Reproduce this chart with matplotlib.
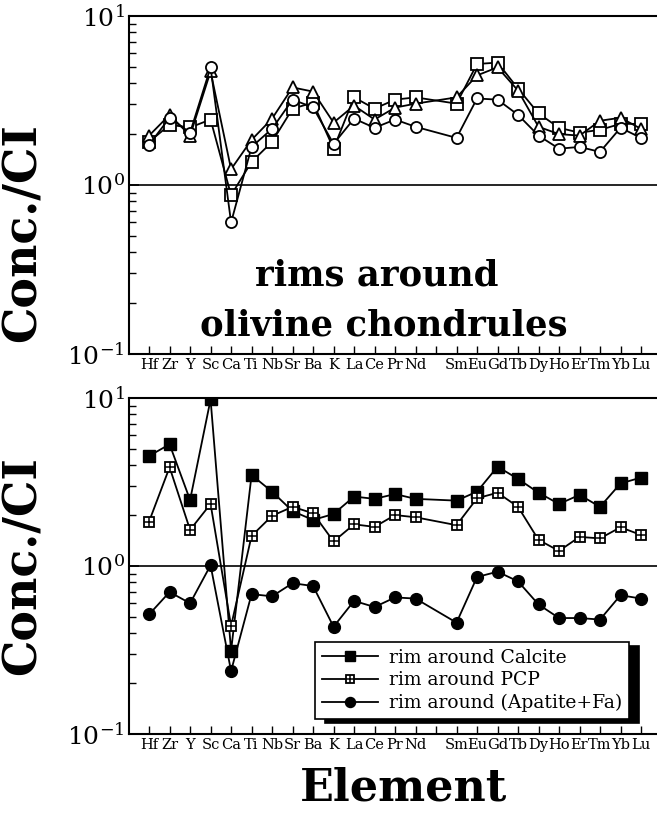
import matplotlib
matplotlib.use("Agg")
import matplotlib.pyplot as plt
from matplotlib.ticker import LogLocator, NullFormatter, FixedLocator

plt.rcParams['font.family'] = 'DejaVu Serif'
plt.rcParams['mathtext.fontset'] = 'dejavuserif'
plt.rcParams['mathtext.default'] = 'regular'

# element order on the x axis, Pm left empty
tick_labels = ["Hf", "Zr", "Y", "Sc", "Ca", "Ti", "Nb", "Sr", "Ba", "K", "La", "Ce", "Pr", "Nd",
               "", "Sm", "Eu", "Gd", "Tb", "Dy", "Ho", "Er", "Tm", "Yb", "Lu"]
elements = [t for t in tick_labels if t]

# top panel: rims around olivine chondrules
olv_square = [1.8, 2.27, 2.19, 2.44, 0.87, 1.37, 1.8, 2.83, 3.07, 1.64, 3.3, 2.83,
              3.2, 3.3, 3.03, 5.2, 5.3, 3.72, 2.65, 2.18, 2.04, 2.12, 2.3, 2.3]
olv_triangle = [1.96, 2.6, 1.96, 4.7, 1.24, 1.85, 2.47, 3.78, 3.57, 2.34, 2.95, 2.44,
                2.87, 3.03, 3.3, 4.45, 4.97, 3.62, 2.21, 2.0, 1.96, 2.4, 2.5, 2.15]
olv_circle = [1.73, 2.5, 2.04, 4.97, 0.60, 1.68, 2.15, 3.2, 2.88, 1.75, 2.47, 2.18,
              2.44, 2.21, 1.9, 3.25, 3.2, 2.6, 1.96, 1.64, 1.68, 1.57, 2.18, 1.9]

# bottom panel
calcite = [4.52, 5.3, 2.47, 9.8, 0.313, 3.48, 2.77, 2.12, 1.88, 2.04, 2.59, 2.51,
           2.68, 2.51, 2.45, 2.77, 3.9, 3.3, 2.73, 2.34, 2.65, 2.25, 3.1, 3.36]
pcp = [1.84, 3.87, 1.64, 2.34, 0.44, 1.51, 1.99, 2.25, 2.06, 1.4, 1.77, 1.71,
       2.01, 1.95, 1.75, 2.53, 2.73, 2.25, 1.43, 1.23, 1.49, 1.46, 1.7, 1.53]
apatite_fa = [0.515, 0.70, 0.60, 1.01, 0.237, 0.68, 0.66, 0.79, 0.76, 0.435, 0.62, 0.57,
              0.65, 0.64, 0.46, 0.86, 0.925, 0.81, 0.59, 0.49, 0.49, 0.48, 0.67, 0.64]

x = [tick_labels.index(e) for e in elements]

W, H = 657, 816
fig = plt.figure(figsize=(W / 100, H / 100), dpi=100)

def add_ax(top_px, bot_px):
    left, right = 129 / W, 1.0
    return fig.add_axes([left, 1 - bot_px / H, right - left, (bot_px - top_px) / H])

def style(ax, label_y):
    ax.set_yscale('log')
    ax.set_ylim(0.1, 10)
    ax.set_xlim(-0.98, 24.78)
    ax.axhline(1.0, color='black', lw=1.2, zorder=1)
    ax.xaxis.set_major_locator(FixedLocator(range(len(tick_labels))))
    ax.set_xticklabels(tick_labels, fontsize=10.5)
    ax.yaxis.set_major_locator(LogLocator(base=10, numticks=5))
    ax.yaxis.set_minor_locator(LogLocator(base=10, subs=range(2, 10), numticks=10))
    ax.yaxis.set_minor_formatter(NullFormatter())
    ax.tick_params(axis='x', direction='in', length=6, width=1, top=False, pad=3)
    ax.tick_params(axis='y', which='major', direction='in', length=7, width=1.2,
                   labelsize=18, pad=3)
    ax.tick_params(axis='y', which='minor', direction='in', length=5, width=1)
    ax.spines['right'].set_visible(False)
    for s in ['left', 'top', 'bottom']:
        ax.spines[s].set_linewidth(1.5)
    ax.set_ylabel('Conc./CI', fontsize=33, fontweight='bold')
    ax.yaxis.set_label_coords(-0.158, label_y)

ax1 = add_ax(16, 354)
style(ax1, 0.36)
mk = dict(color='black', lw=1.3, markersize=8, markerfacecolor='white',
          markeredgecolor='black', markeredgewidth=1.3)
ax1.plot(x, olv_square, marker='s', **mk)
ax1.plot(x, olv_triangle, marker='^', **mk)
ax1.plot(x, olv_circle, marker='o', **mk)
ax1.text((376 - 129) / 527, (354 - 285) / 338, 'rims around', transform=ax1.transAxes,
         ha='center', va='baseline', fontsize=25.5, fontweight='bold')
ax1.text((383 - 129) / 527, (354 - 335) / 338, 'olivine chondrules', transform=ax1.transAxes,
         ha='center', va='baseline', fontsize=25.5, fontweight='bold')

ax2 = add_ax(398, 734)
style(ax2, 0.5)
l1, = ax2.plot(x, calcite, marker='s', color='black', lw=1.3, markersize=8.5,
               markerfacecolor='black')
l2, = ax2.plot(x, pcp, marker='s', color='black', lw=1.3, markersize=7.5,
               markerfacecolor='white', markeredgewidth=1.3)
l2p, = ax2.plot(x, pcp, ls='none', marker='+', color='black', markersize=7.5,
                markeredgewidth=1.1)
l3, = ax2.plot(x, apatite_fa, marker='o', color='black', lw=1.3, markersize=8.5,
               markerfacecolor='black')
ax2.set_xlabel('Element', fontsize=32, fontweight='bold')
ax2.xaxis.set_label_coords((403 - 129) / 527, -0.098)

leg = ax2.legend([l1, (l2, l2p), l3],
                 ['rim around Calcite', 'rim around PCP', 'rim around (Apatite+Fa)'],
                 loc='lower left', bbox_to_anchor=(0.353, 0.045), borderaxespad=0,
                 fontsize=13.5, frameon=True, fancybox=False, framealpha=1,
                 edgecolor='black', handlelength=3.0, handletextpad=0.6,
                 labelspacing=0.25, borderpad=0.35, markerscale=0.85,
                 shadow={'ox': 7, 'oy': -3, 'facecolor': 'black',
                         'edgecolor': 'black', 'alpha': 1})
leg.get_frame().set_linewidth(1.2)

fig.savefig('out.png', dpi=100)
